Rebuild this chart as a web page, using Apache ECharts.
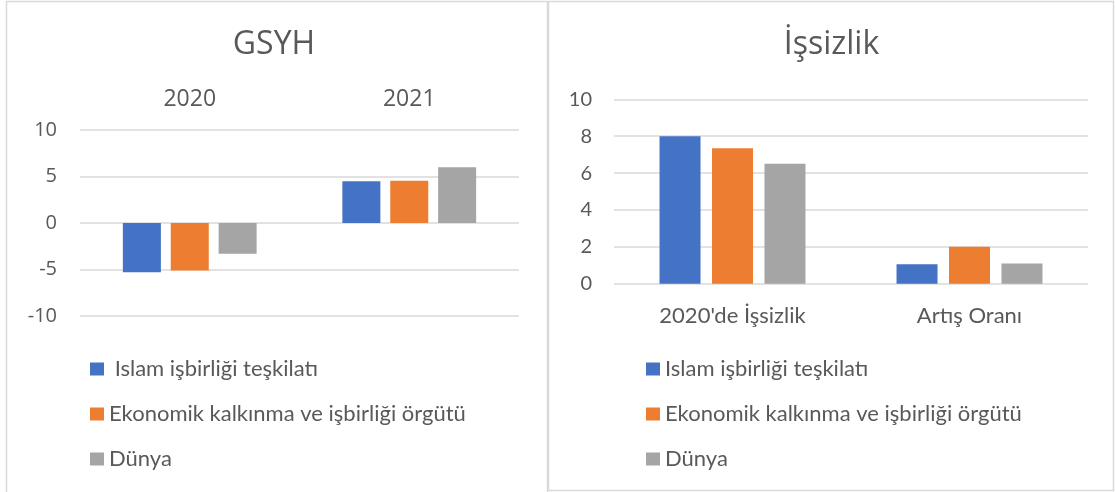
<!DOCTYPE html>
<html>
<head>
<meta charset="utf-8">
<script src="https://cdn.jsdelivr.net/npm/echarts@6/dist/echarts.min.js"></script>
<style>
    html, body { margin: 0; padding: 0; background: #fff; }
    #gsyh_con { position: absolute; left: 0; top: 0; width: 548px; height: 492px; }
    #issizlik_con { position: absolute; left: 548px; top: 0; width: 567px; height: 492px; }
</style>
</head>
<body>
<div id="gsyh_con"></div>
<div id="issizlik_con"></div>
<script>
const seriesNames = ['Islam işbirliği teşkilatı', 'Ekonomik kalkınma ve işbirliği örgütü', 'Dünya'];
const colors = ['#4472C4', '#ED7D31', '#A5A5A5'];

// GSYH
const gsyhYears = ['2020', '2021'];
const gsyhIslam = [-5.3, 4.5];
const gsyhEkonomik = [-5.1, 4.55];
const gsyhDunya = [-3.3, 6.0];

// İşsizlik
const issizlikCats = ["2020'de İşsizlik", 'Artış Oranı'];
const issizlikIslam = [8.0, 1.05];
const issizlikEkonomik = [7.35, 2.0];
const issizlikDunya = [6.5, 1.1];

const textColor = '#595959';
const gridColor = '#d9d9d9';

function makeSeries(lists, barWidth, barGap) {
    return lists.map(function (data, i) {
        return {
            name: seriesNames[i],
            type: 'bar',
            data: data,
            barWidth: barWidth,
            barGap: barGap,
            itemStyle: {color: colors[i]}
        };
    });
}

function legendOpt(left, formatter) {
    return {
        orient: 'vertical',
        left: left,
        top: 353,
        itemWidth: 14,
        itemHeight: 13,
        itemGap: 23,
        icon: 'rect',
        formatter: formatter,
        textStyle: {color: textColor, fontFamily: 'Lato', fontSize: 22, lineHeight: 22}
    };
}

let gsyh = echarts.init(document.getElementById('gsyh_con'));
gsyh.setOption({
    animation: false,
    graphic: [{
        type: 'rect',
        shape: {x: 6.5, y: 1.5, width: 541, height: 510},
        style: {fill: 'none', stroke: gridColor, lineWidth: 1.5}
    }],
    title: {
        text: 'GSYH',
        left: 'center',
        top: 29,
        padding: 0,
        textStyle: {color: textColor, fontFamily: 'Open Sans', fontSize: 32, fontWeight: 'normal'}
    },
    legend: legendOpt(85, function (name) {
        return name === seriesNames[0] ? ' ' + name : name;
    }),
    grid: {left: 80, right: 29, top: 130, bottom: 176},
    xAxis: {
        type: 'category',
        position: 'top',
        data: gsyhYears,
        axisLine: {show: false},
        axisTick: {show: false},
        axisLabel: {color: textColor, fontFamily: 'Open Sans', fontSize: 23, margin: 19}
    },
    yAxis: {
        type: 'value',
        min: -10,
        max: 10,
        interval: 5,
        axisLabel: {color: textColor, fontFamily: 'Open Sans', fontSize: 20, margin: 23},
        splitLine: {lineStyle: {color: gridColor, width: 1.5}}
    },
    series: makeSeries([gsyhIslam, gsyhEkonomik, gsyhDunya], 38, '26%')
});

let issizlik = echarts.init(document.getElementById('issizlik_con'));
issizlik.setOption({
    animation: false,
    graphic: [{
        type: 'rect',
        shape: {x: 0.5, y: 1.5, width: 565, height: 489},
        style: {fill: 'none', stroke: gridColor, lineWidth: 1.5}
    }],
    title: {
        text: 'İşsizlik',
        left: 'center',
        top: 29,
        padding: 0,
        textStyle: {color: textColor, fontFamily: 'Open Sans', fontSize: 32, fontWeight: 'normal'}
    },
    legend: legendOpt(93),
    grid: {left: 66, right: 27, top: 99.3, bottom: 208.3},
    xAxis: {
        type: 'category',
        data: issizlikCats,
        axisLine: {show: false},
        axisTick: {show: false},
        axisLabel: {color: textColor, fontFamily: 'Lato', fontSize: 22, margin: 21}
    },
    yAxis: {
        type: 'value',
        min: 0,
        max: 10,
        interval: 2,
        axisLabel: {color: textColor, fontFamily: 'Lato', fontSize: 20, margin: 22},
        splitLine: {lineStyle: {color: gridColor, width: 1.5}}
    },
    series: makeSeries([issizlikIslam, issizlikEkonomik, issizlikDunya], 41, '28%')
});

window.addEventListener('resize', function () {
    gsyh.resize();
    issizlik.resize();
});
</script>
</body>
</html>
